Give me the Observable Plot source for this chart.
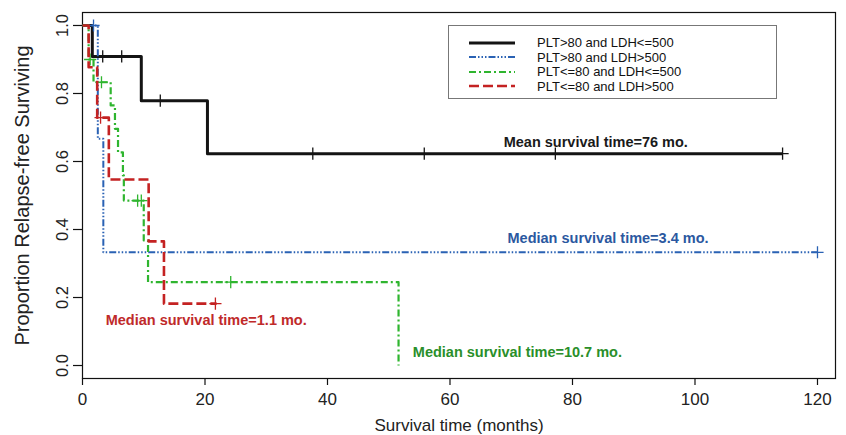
<!DOCTYPE html>
<html><head><meta charset="utf-8">
<script src="https://cdn.jsdelivr.net/npm/d3@7"></script>
<script src="https://cdn.jsdelivr.net/npm/@observablehq/plot@0.6"></script>
<style>
body{margin:0;background:#fff;}
#wrap{position:relative;width:846px;height:435px;}
#legend{position:absolute;left:448px;top:25px;width:329px;height:74px;border:1.5px solid #777;box-sizing:border-box;background:#fff;font:13px "Liberation Sans",Arial,sans-serif;color:#111;}
#legend .row{position:absolute;left:20px;height:14px;display:flex;align-items:center;white-space:nowrap;}
#legend svg{margin-right:22px;}
</style></head><body><div id="wrap"><div id="legend"></div></div>
<script>
// ---- data ----
const seriesNames = ["PLT>80 and LDH<=500", "PLT>80 and LDH>500", "PLT<=80 and LDH<=500", "PLT<=80 and LDH>500"];

const blackT = [0, 1.6, 9.6, 20.4, 114.3];
const blackS = [1, 0.909, 0.779, 0.623, 0.623];
const blackCensor = [3.3, 6.4, 12.7, 37.6, 55.8, 77.2, 114.3];

const blueT = [0, 2.5, 3.4, 120];
const blueS = [1, 0.667, 0.333, 0.333];
const blueCensor = [1.8, 120];

const greenT = [0, 1.0, 1.8, 4.6, 5.3, 5.8, 6.6, 6.75, 10.0, 10.7, 51.6];
const greenS = [1, 0.9, 0.833, 0.765, 0.696, 0.627, 0.559, 0.485, 0.368, 0.245, 0];
const greenCensor = [1.25, 3.1, 9.0, 9.6, 24.2];

const redT = [0, 1.0, 2.4, 4.3, 10.8, 13.3, 21.9];
const redS = [1, 0.877, 0.729, 0.547, 0.365, 0.182, 0.182];
const redCensor = [2.95, 21.7];

const xTicks = [0, 20, 40, 60, 80, 100, 120];
const yTicks = [0, 0.2, 0.4, 0.6, 0.8, 1.0];

const annoText = ["Mean survival time=76 mo.", "Median survival time=3.4 mo.", "Median survival time=1.1 mo.", "Median survival time=10.7 mo."];
const annoSeries = [0, 1, 3, 2];
const annoX = [83.8, 85.8, 20.2, 71.0];
const annoY = [0.655, 0.374, 0.132, 0.038];

// ---- styles ----
const styles = [
  {stroke: "#141414", width: 3, dash: null, text: "#1a1a1a"},
  {stroke: "#2a62b4", width: 2, dash: "7,2,1.5,2,1.5,2,1.5,2", text: "#2b58a0"},
  {stroke: "#2fb52f", width: 2.2, dash: "7,3,2,3", text: "#2a8f2a"},
  {stroke: "#c42222", width: 2.6, dash: "10,4", text: "#c02a2a"}
];

const curves = [[blackT, blackS, blackCensor], [blueT, blueS, blueCensor], [greenT, greenS, greenCensor], [redT, redS, redCensor]];

function survAt(T, S, t) {
  let v = S[0];
  for (let i = 0; i < T.length; i++) if (T[i] <= t) v = S[i];
  return v;
}

const marks = [];
curves.forEach(([T, S, C], i) => {
  const pts = T.map((t, j) => ({t, s: S[j]}));
  const st = styles[i];
  marks.push(Plot.line(pts, {x: "t", y: "s", curve: "step-after", stroke: st.stroke, strokeWidth: st.width, strokeDasharray: st.dash, strokeLinecap: "butt"}));
  const cens = C.map(t => ({t, s: survAt(T, S, t)}));
  marks.push(Plot.dot(cens, {x: "t", y: "s", symbol: "plus", r: 4, stroke: st.stroke, strokeWidth: 1.3}));
});

const annos = annoText.map((text, i) => ({text, x: annoX[i], y: annoY[i], c: styles[annoSeries[i]].text}));

const chart = Plot.plot({
  width: 846, height: 435,
  marginLeft: 82, marginRight: 11, marginTop: 12, marginBottom: 57,
  style: {background: "white", fontFamily: "'Liberation Sans', Arial, sans-serif"},
  x: {domain: [0, 122.94]},
  y: {domain: [-0.0382, 1.0382]},
  marks: [
    Plot.axisX({ticks: xTicks, tickSize: 7, tickPadding: 7, fontSize: 17, tickFormat: d => String(d), label: null, stroke: "#111", fill: "#222", strokeWidth: 1.2}),
    Plot.axisY({ticks: yTicks, tickSize: 9, tickFormat: () => "", label: null, stroke: "#111", strokeWidth: 1.2}),
    Plot.text(yTicks, {y: d => d, frameAnchor: "left", dx: -20, rotate: -90, text: d => d.toFixed(1), fontSize: 16.5, fill: "#222", textAnchor: "middle", lineAnchor: "middle"}),
    Plot.text(["Survival time (months)"], {frameAnchor: "bottom", dy: 47, fontSize: 17, fill: "#222", textAnchor: "middle", lineAnchor: "middle"}),
    Plot.text(["Proportion Relapse-free Surviving"], {frameAnchor: "left", dx: -60, rotate: -90, fontSize: 20, fill: "#222", textAnchor: "middle", lineAnchor: "middle"}),
    Plot.frame({stroke: "#111", strokeWidth: 1.2}),
    ...marks,
    Plot.text(annos, {x: "x", y: "y", text: "text", fill: "c", fontWeight: "bold", fontSize: 14.5, lineAnchor: "middle"})
  ]
});

const wrap = document.getElementById("wrap");
wrap.insertBefore(chart, wrap.firstChild);

const legend = document.getElementById("legend");
seriesNames.forEach((name, i) => {
  const st = styles[i];
  const row = document.createElement("div");
  row.className = "row";
  row.style.top = (9.5 + i * 14.5) + "px";
  row.innerHTML = `<svg width="46" height="10"><line x1="0" y1="5" x2="46" y2="5" stroke="${st.stroke}" stroke-width="${st.width}" ${st.dash ? `stroke-dasharray="${st.dash}"` : ""}/></svg><span>${name.replace(/</g, "&lt;").replace(/>/g, "&gt;")}</span>`;
  legend.appendChild(row);
});
</script></body></html>
